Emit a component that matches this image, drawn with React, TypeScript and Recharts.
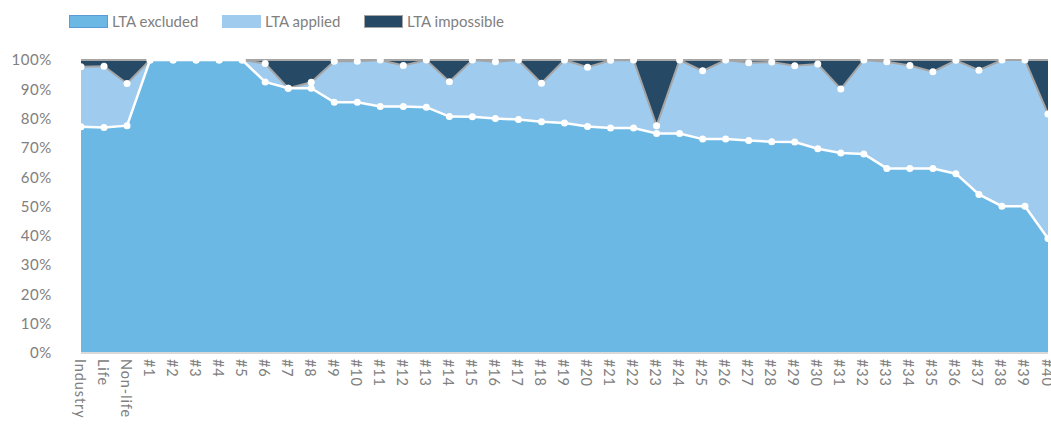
import { ComposedChart, Area, Line, XAxis, YAxis } from 'recharts';

const categories = [
  'Industry', 'Life', 'Non-life',
  '#1', '#2', '#3', '#4', '#5', '#6', '#7', '#8', '#9', '#10',
  '#11', '#12', '#13', '#14', '#15', '#16', '#17', '#18', '#19', '#20',
  '#21', '#22', '#23', '#24', '#25', '#26', '#27', '#28', '#29', '#30',
  '#31', '#32', '#33', '#34', '#35', '#36', '#37', '#38', '#39', '#40',
];

const excluded = [
  77.2, 77.0, 77.6,
  100, 100, 100, 100, 100, 92.5, 90.4, 90.4, 85.6, 85.6,
  84.1, 84.1, 83.9, 80.7, 80.6, 80.0, 79.7, 78.9, 78.5, 77.3,
  76.8, 76.8, 74.9, 74.9, 73.0, 73.0, 72.5, 72.1, 72.0, 69.7,
  68.3, 67.9, 63.0, 63.0, 63.0, 61.2, 54.1, 50.1, 50.1, 39.1,
];

const applied = [
  20.5, 20.9, 14.4,
  0, 0, 0, 0, 0, 6.3, 0, 2.0, 14.0, 14.0,
  15.9, 14.0, 16.1, 11.9, 19.4, 19.4, 20.3, 13.2, 21.5, 20.2,
  23.1, 23.2, 2.7, 25.1, 23.3, 27.0, 26.6, 27.2, 26.0, 28.9,
  21.8, 32.1, 36.4, 35.1, 33.0, 38.7, 42.4, 49.9, 49.9, 42.5,
];

const impossible = [
  2.3, 2.1, 8.0,
  0, 0, 0, 0, 0, 1.2, 9.6, 7.6, 0.4, 0.4,
  0, 1.9, 0, 7.4, 0, 0.6, 0, 7.9, 0, 2.5,
  0.1, 0, 22.4, 0, 3.7, 0, 0.9, 0.7, 2.0, 1.4,
  9.9, 0, 0.6, 1.9, 4.0, 0.1, 3.5, 0, 0, 18.4,
];

const yTicks = [0, 10, 20, 30, 40, 50, 60, 70, 80, 90, 100];

const data = categories.map((name, i) => ({
  name,
  excluded: excluded[i],
  applied: applied[i],
  impossible: impossible[i],
  appliedTop: excluded[i] + applied[i],
}));

const COLORS = {
  excluded: '#6cb8e4',
  applied: '#9fcbee',
  impossible: '#264a66',
  edge: '#a5a5a5',
  text: '#808080',
};

const FONT = 'Lato, "Open Sans", sans-serif';

const legendItems = [
  { label: 'LTA excluded', color: COLORS.excluded, border: '#5b9bd5', x: 69 },
  { label: 'LTA applied', color: COLORS.applied, border: COLORS.applied, x: 222 },
  { label: 'LTA impossible', color: COLORS.impossible, border: COLORS.edge, x: 364 },
];

function RotatedTick({ x, y, payload }: any) {
  return (
    <text
      transform={`translate(${x - 1},${y}) rotate(90)`}
      textAnchor="start"
      dominantBaseline="central"
      fontSize={14.5}
      letterSpacing={0.9}
      fontFamily={FONT}
      fill={COLORS.text}
    >
      {payload.value}
    </text>
  );
}

export default function App() {
  return (
    <div style={{ position: 'absolute', left: 0, top: 0, width: 1051, height: 425, background: '#fff' }}>
      {legendItems.map((item) => (
        <div
          key={item.label}
          style={{
            position: 'absolute',
            left: item.x,
            top: 12,
            display: 'flex',
            alignItems: 'center',
            fontFamily: FONT,
            fontSize: 15,
            color: COLORS.text,
            whiteSpace: 'nowrap',
          }}
        >
          <span
            style={{
              display: 'inline-block',
              width: 37,
              height: 11,
              background: item.color,
              border: `1px solid ${item.border}`,
              marginRight: 4,
            }}
          />
          {item.label}
        </div>
      ))}
      <ComposedChart
        width={1051}
        height={425}
        data={data}
        margin={{ top: 60, right: 3, bottom: 0, left: 0 }}
      >
        <XAxis
          dataKey="name"
          interval={0}
          height={72}
          tickSize={0}
          tickMargin={6}
          axisLine={{ stroke: '#d9d9d9', strokeWidth: 2 }}
          tickLine={false}
          tick={<RotatedTick />}
        />
        <YAxis
          width={81}
          domain={[0, 100]}
          ticks={yTicks}
          tickFormatter={(v: number) => `${v}%`}
          axisLine={false}
          tickLine={false}
          tickSize={0}
          tickMargin={29}
          tick={{ fontSize: 15, fill: COLORS.text, fontFamily: FONT, letterSpacing: 0.6 }}
        />
        <Area
          type="linear"
          dataKey="excluded"
          stackId="1"
          fill={COLORS.excluded}
          fillOpacity={1}
          stroke="none"
          isAnimationActive={false}
        />
        <Area
          type="linear"
          dataKey="applied"
          stackId="1"
          fill={COLORS.applied}
          fillOpacity={1}
          stroke="none"
          isAnimationActive={false}
        />
        <Area
          type="linear"
          dataKey="impossible"
          stackId="1"
          fill={COLORS.impossible}
          fillOpacity={1}
          stroke={COLORS.edge}
          strokeWidth={2}
          isAnimationActive={false}
        />
        <Line
          type="linear"
          dataKey="appliedTop"
          stroke={COLORS.edge}
          strokeWidth={2}
          dot={{ r: 3.5, fill: '#fff', stroke: 'none' }}
          isAnimationActive={false}
        />
        <Line
          type="linear"
          dataKey="excluded"
          stroke="#fff"
          strokeWidth={2.5}
          dot={{ r: 3.5, fill: '#fff', stroke: 'none' }}
          isAnimationActive={false}
        />
      </ComposedChart>
    </div>
  );
}
